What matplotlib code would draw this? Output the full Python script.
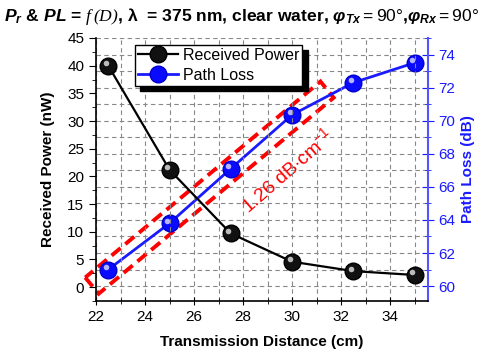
import matplotlib
matplotlib.use("Agg")
import matplotlib.pyplot as plt
import matplotlib.transforms as mtransforms
from matplotlib.patches import Polygon
from matplotlib.ticker import MultipleLocator

plt.rcParams['font.family'] = ['Liberation Sans', 'DejaVu Sans']
plt.rcParams['mathtext.fontset'] = 'custom'
plt.rcParams['mathtext.rm'] = 'Liberation Sans'
plt.rcParams['mathtext.bf'] = 'Liberation Sans:bold'
plt.rcParams['mathtext.it'] = 'Liberation Sans:italic'
plt.rcParams['mathtext.bfit'] = 'Liberation Sans:bold:italic'
plt.rcParams['mathtext.sf'] = 'Liberation Serif:italic'

# data
distance = [22.5, 25, 27.5, 30, 32.5, 35]
received_power = [40.0, 21.2, 9.7, 4.6, 2.9, 2.2]
path_loss = [61.0, 63.8, 67.1, 70.35, 72.3, 73.5]
slope_label = r'1.26 dB$\cdot$cm$^{-1}$'

fig = plt.figure(figsize=(4.96, 3.53), dpi=100)
ax = fig.add_axes([96/496, 1-301/353, 332/496, 263/353])
ax2 = ax.twinx()

blue = '#1a1aff'

ax.set_xlim(22, 35.55)
ax.set_ylim(-2.5, 45)
ax2.set_ylim(59.1, 75)
ax.xaxis.set_major_locator(MultipleLocator(2))
ax.xaxis.set_minor_locator(MultipleLocator(1))
ax.yaxis.set_major_locator(MultipleLocator(5))
ax.yaxis.set_minor_locator(MultipleLocator(2.5))
ax2.yaxis.set_major_locator(MultipleLocator(2))
ax2.yaxis.set_minor_locator(MultipleLocator(1))
# grid: vertical every 1 cm, horizontal every 1 dB
ax.grid(True, which='both', axis='x', color='#888888', linestyle=(0, (4, 3)), linewidth=0.8)
ax2.grid(True, which='both', axis='y', color='#888888', linestyle=(0, (4, 3)), linewidth=0.8)
ax.set_zorder(ax2.get_zorder() + 1)
ax.patch.set_visible(False)

# red dashed box around the linear part of the path loss
box = Polygon([(21.56, 60.52), (22.11, 59.54), (31.70, 71.39), (31.16, 72.37)], closed=True,
              fill=False, edgecolor='red', linewidth=2.8, linestyle=(0, (3, 1.6)),
              clip_on=False, zorder=2)
ax2.add_patch(box)
ax2.text(29.8, 67.0, slope_label, color='red', fontsize=14, rotation=41,
         ha='center', va='center', zorder=3)

# lines + spheres
l1, = ax.plot(distance, received_power, '-', color='black', linewidth=1.6,
              marker='o', markersize=12, markerfacecolor='#111111', markeredgecolor='#000000',
              label='Received Power', zorder=5)
l2, = ax2.plot(distance, path_loss, '-', color=blue, linewidth=2.0,
               marker='o', markersize=12, markerfacecolor='#0a0aff', markeredgecolor='#0000cc',
               label='Path Loss', zorder=5)
off1 = mtransforms.offset_copy(ax.transData, fig=fig, x=-1.8, y=1.8, units='points')
off2 = mtransforms.offset_copy(ax2.transData, fig=fig, x=-1.8, y=1.8, units='points')
ax.plot(distance, received_power, 'o', markersize=4, color='#cfcfcf', alpha=0.9,
        markeredgewidth=0, transform=off1, zorder=6)
ax2.plot(distance, path_loss, 'o', markersize=4, color='#c8c8ff', alpha=0.9,
         markeredgewidth=0, transform=off2, zorder=6)

# axes styling
ax.tick_params(axis='x', which='both', direction='inout', labelsize=11)
ax.tick_params(axis='x', which='major', length=6)
ax.tick_params(axis='x', which='minor', length=4)
ax.tick_params(axis='y', which='major', direction='out', length=5, labelsize=11)
ax.tick_params(axis='y', which='minor', direction='out', length=3)
ax2.tick_params(axis='y', which='major', direction='inout', length=8, colors=blue, labelsize=11)
ax2.tick_params(axis='y', which='minor', direction='inout', length=5, colors=blue)
ax2.spines['right'].set_color('#5555ff')
ax2.spines['right'].set_linewidth(1.5)
for s in ['left', 'bottom']:
    ax.spines[s].set_linewidth(1.2)
ax.spines['right'].set_visible(False)
ax.spines['top'].set_visible(False)
ax2.spines['top'].set_visible(False)
ax2.spines['left'].set_visible(False)
ax2.spines['bottom'].set_visible(False)

ax.set_xticks([22, 24, 26, 28, 30, 32, 34])
ax.set_xlabel('Transmission Distance (cm)', fontsize=11, fontweight='bold', labelpad=8)
ax.set_ylabel('Received Power (nW)', fontsize=11, fontweight='bold', labelpad=9)
ax2.set_ylabel('Path Loss (dB)', fontsize=11, fontweight='bold', color=blue, labelpad=4)

leg = ax.legend(handles=[l1, l2], loc='upper left', bbox_to_anchor=(0.117, 0.975),
                borderaxespad=0.0, fontsize=11.5, fancybox=False, framealpha=1,
                edgecolor='black', handlelength=2.5, handletextpad=0.3,
                borderpad=0.2, labelspacing=0.3,
                shadow={'color': 'black', 'alpha': 1, 'ox': 4, 'oy': -4})
leg.get_frame().set_linewidth(1.0)
leg.set_zorder(10)

title = (r'$\mathbfit{P_r}$ & $\mathbfit{PL}$ = $\mathsf{f\,(D)}$, λ  = 375 nm, clear water, '
         r'$\mathbfit{φ_{Tx}}$$\mathrm{=90°}$,$\mathbfit{φ_{Rx}}$$\mathrm{=90°}$')
fig.text(0.008, 0.94, title, fontsize=12.6, fontweight='bold', ha='left', va='baseline')

fig.savefig('out.png', dpi=100)
